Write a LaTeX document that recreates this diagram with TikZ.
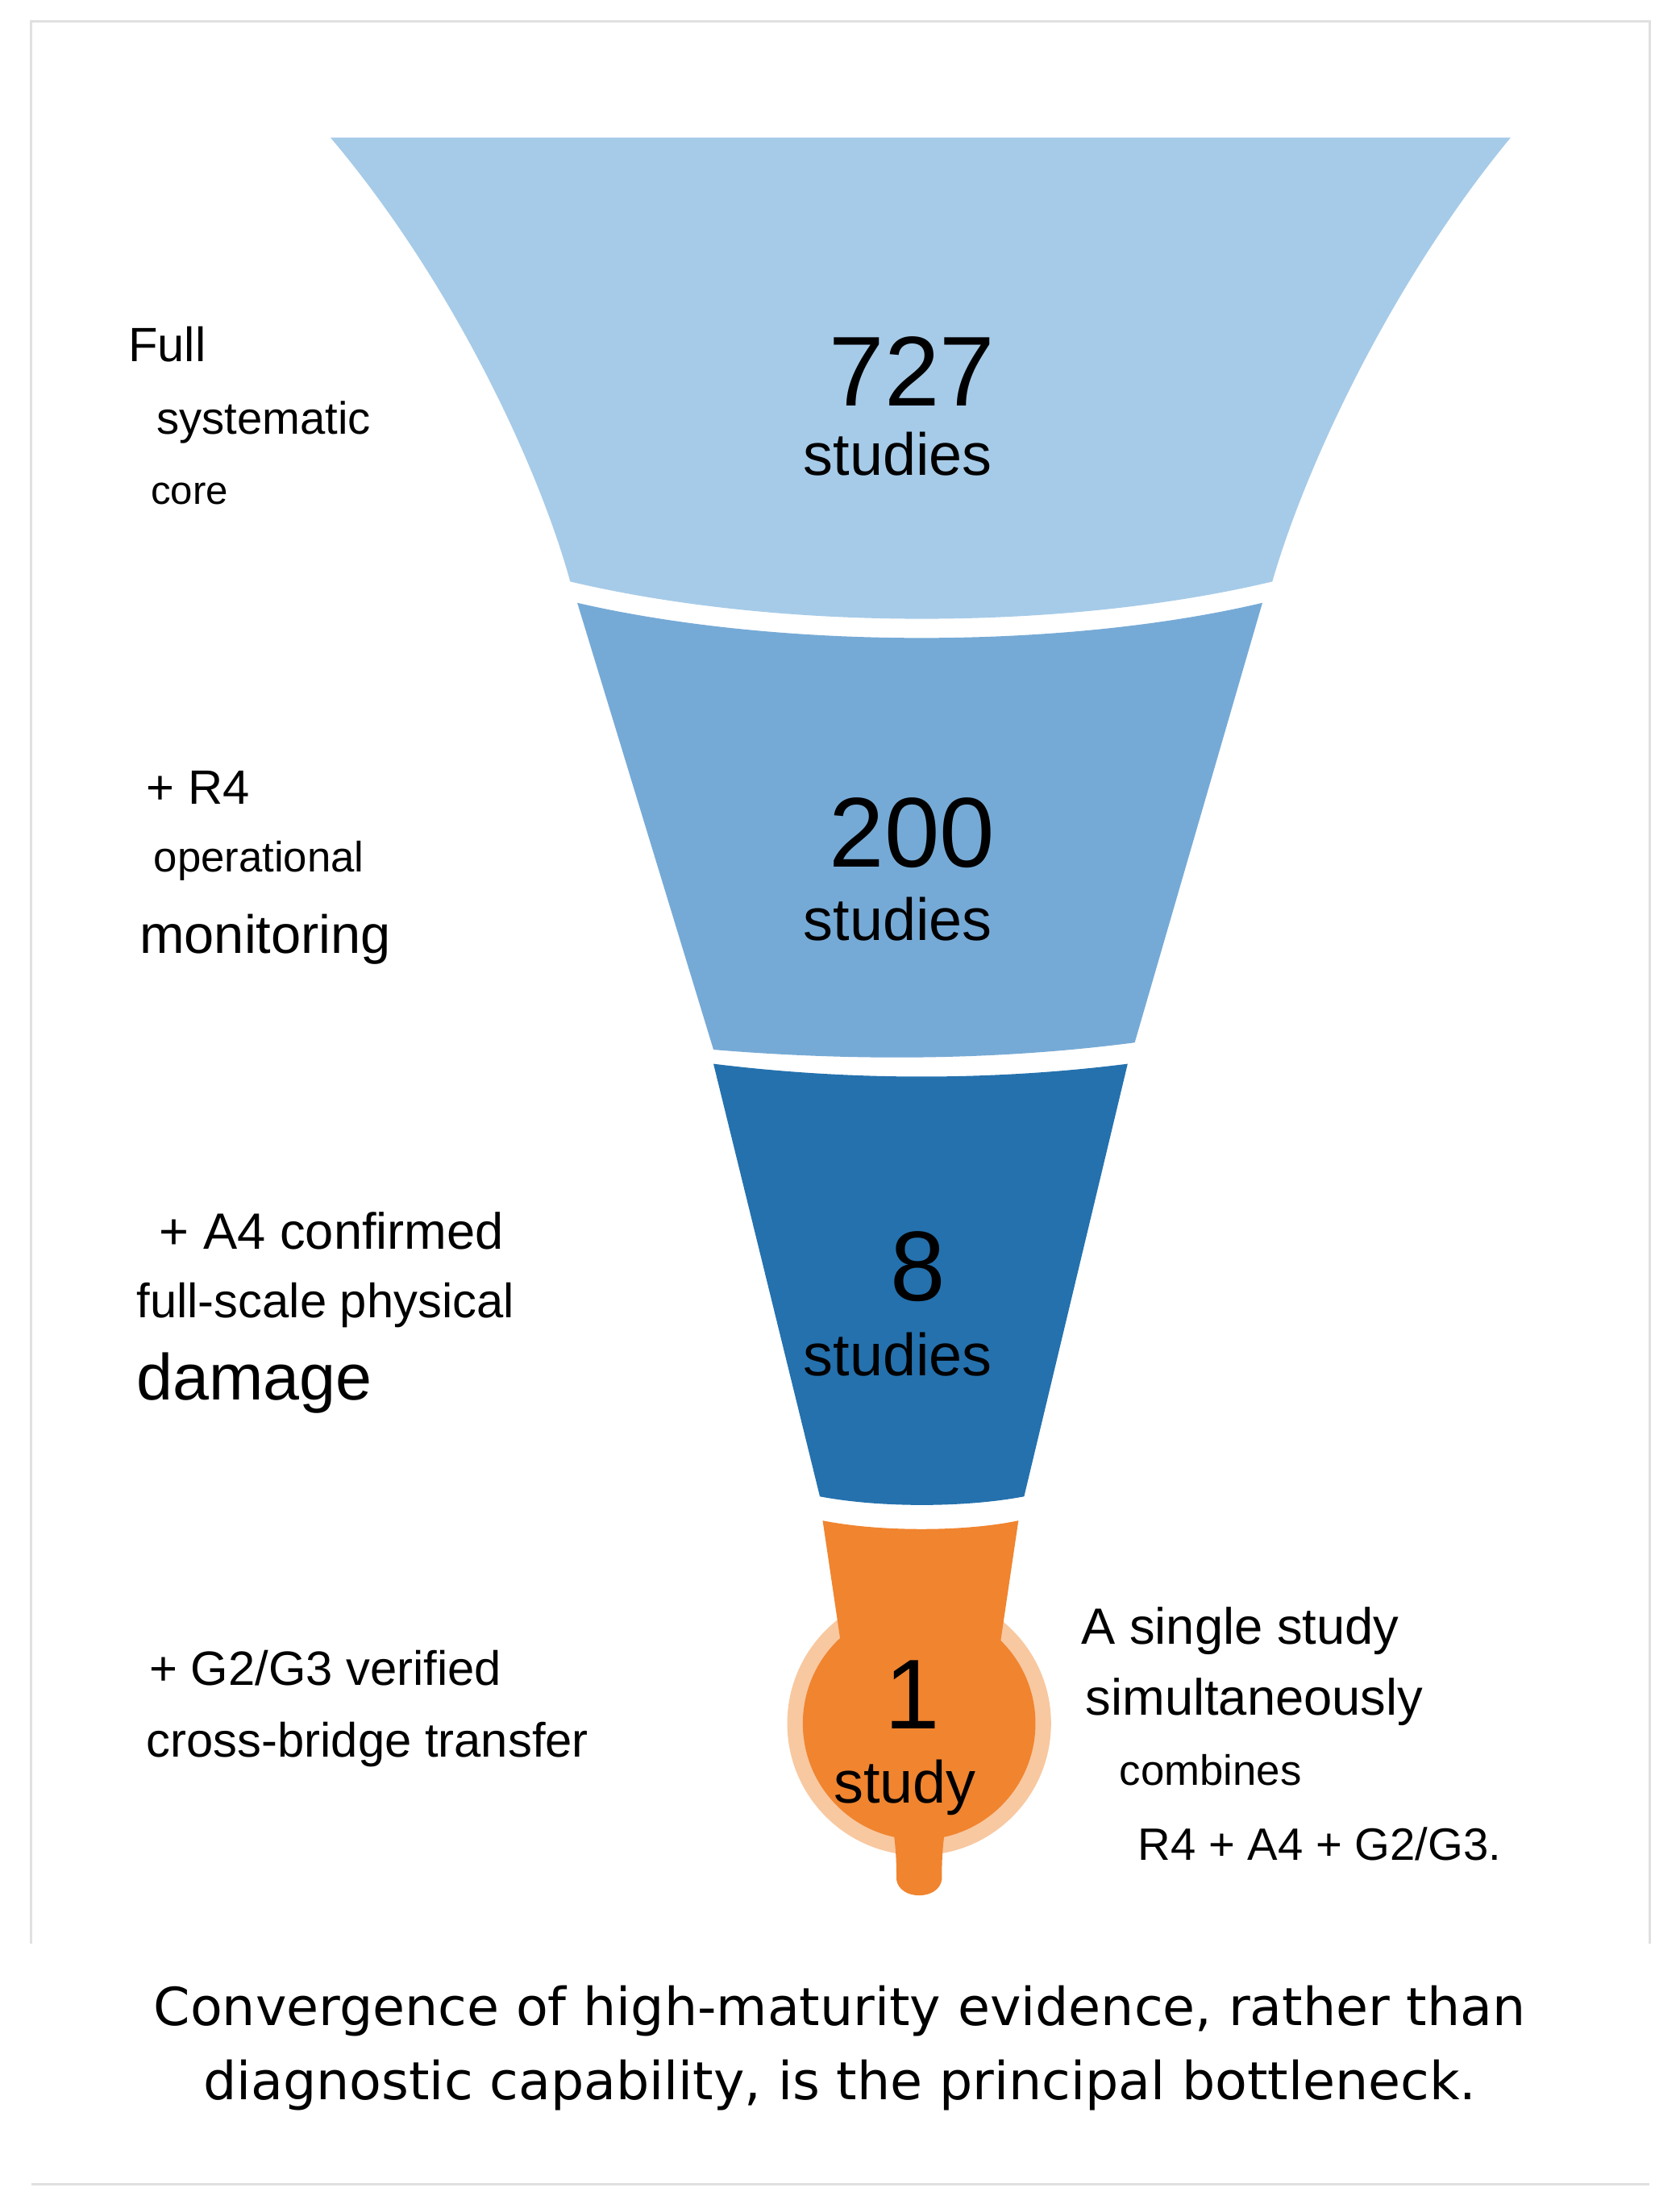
\documentclass[tikz,border=0pt]{standalone}
\usepackage{fontspec}
\setmainfont{Liberation Sans}
\newfontfamily\capfont{DejaVu Sans}
\definecolor{segA}{HTML}{A6CBE8}
\definecolor{segB}{HTML}{76AAD6}
\definecolor{segC}{HTML}{2471AE}
\definecolor{segD}{HTML}{F0842F}
\definecolor{halo}{HTML}{F8C8A0}
\tikzset{
  num/.style={font=\fontsize{35}{40}\selectfont, inner sep=0pt},
  unit/.style={font=\fontsize{21}{25}\selectfont, inner sep=0pt},
  lbl/.style={anchor=west, inner sep=0pt},
  frame/.style={draw=black!12, line width=1pt}
}
\begin{document}
\begin{tikzpicture}[x=0.0176cm, y=-0.0176cm]
  \useasboundingbox (0,0) rectangle (1184,1551);

  % frame
  \draw [frame] (22,1370) -- (22,15) -- (1163,15) -- (1163,1370);
  \draw [frame] (22,1540) -- (1163,1540);

  % funnel
  \fill [segA] (233,97) -- (1065,97) .. controls (980,200) and (920,330) .. (897,410)
    .. controls (750,445) and (550,445) .. (402,410) .. controls (380,330) and (320,200) .. (233,97);
  \fill [segB] (407,425) .. controls (550,458) and (750,458) .. (890,425) -- (800,735)
    .. controls (700,748) and (600,748) .. (503,740) -- cycle;
  \fill [segC] (503,750) .. controls (600,762) and (700,762) .. (795,750) -- (722,1055)
    .. controls (680,1063) and (620,1063) .. (578,1055) -- cycle;
  \fill [halo] (648,1215) circle [radius=93];
  \fill [segD] (580,1072) .. controls (620,1080) and (680,1080) .. (718,1072) -- (705,1160) -- (593,1160) -- cycle;
  \fill [segD] (648,1215) circle [radius=82];
  \fill [segD] (628,1280) .. controls (632,1300) and (632,1315) .. (632,1325)
    .. controls (634,1340) and (662,1340) .. (664,1325) .. controls (664,1315) and (664,1300) .. (668,1280) -- cycle;

  % counts
  \node (n1) [num] at (643,262) {727};
  \node (u1) [unit] at (633,320) {studies};
  \node (n2) [num] at (643,587) {200};
  \node (u2) [unit] at (633,648) {studies};
  \node (n3) [num] at (647,893) {8};
  \node (u3) [unit] at (633,955) {studies};
  \node (n4) [num] at (643,1195) {1};
  \node (u4) [unit] at (638,1260) {study};

  % left labels
  \node (l1a) [lbl, font=\fontsize{17}{20}\selectfont] at (90,243) {Full};
  \node (l1b) [lbl, font=\fontsize{16}{19}\selectfont] at (110,298) {systematic};
  \node (l1c) [lbl, font=\fontsize{14}{17}\selectfont] at (106,348) {core};
  \node (l2a) [lbl, font=\fontsize{17}{20}\selectfont] at (103,555) {+ R4};
  \node (l2b) [lbl, font=\fontsize{15}{18}\selectfont] at (108,607) {operational};
  \node (l2c) [lbl, font=\fontsize{19}{22}\selectfont] at (98,662) {monitoring};
  \node (l3a) [lbl, font=\fontsize{18}{21}\selectfont] at (112,868) {+ A4 confirmed};
  \node (l3b) [lbl, font=\fontsize{17}{20}\selectfont] at (96,920) {full-scale physical};
  \node (l3c) [lbl, font=\fontsize{23}{27}\selectfont] at (96,975) {damage};
  \node (l4a) [lbl, font=\fontsize{17}{20}\selectfont] at (105,1176) {+ G2/G3 verified};
  \node (l4b) [lbl, font=\fontsize{17}{20}\selectfont] at (103,1230) {cross-bridge transfer};

  % right note
  \node (r1) [lbl, font=\fontsize{18}{21}\selectfont] at (762,1150) {A single study};
  \node (r2) [lbl, font=\fontsize{18}{21}\selectfont] at (765,1200) {simultaneously};
  \node (r3) [lbl, font=\fontsize{15}{18}\selectfont] at (789,1248) {combines};
  \node (r4) [lbl, font=\fontsize{16}{19}\selectfont] at (802,1300) {R4 + A4 + G2/G3.};

  % caption
  \node (cap1) [inner sep=0pt, font=\capfont\fontsize{18.5}{22}\selectfont] at (592,1418) {Convergence of high-maturity evidence, rather than};
  \node (cap2) [inner sep=0pt, font=\capfont\fontsize{18.5}{22}\selectfont] at (592,1470) {diagnostic capability, is the principal bottleneck.};
\end{tikzpicture}
\end{document}
